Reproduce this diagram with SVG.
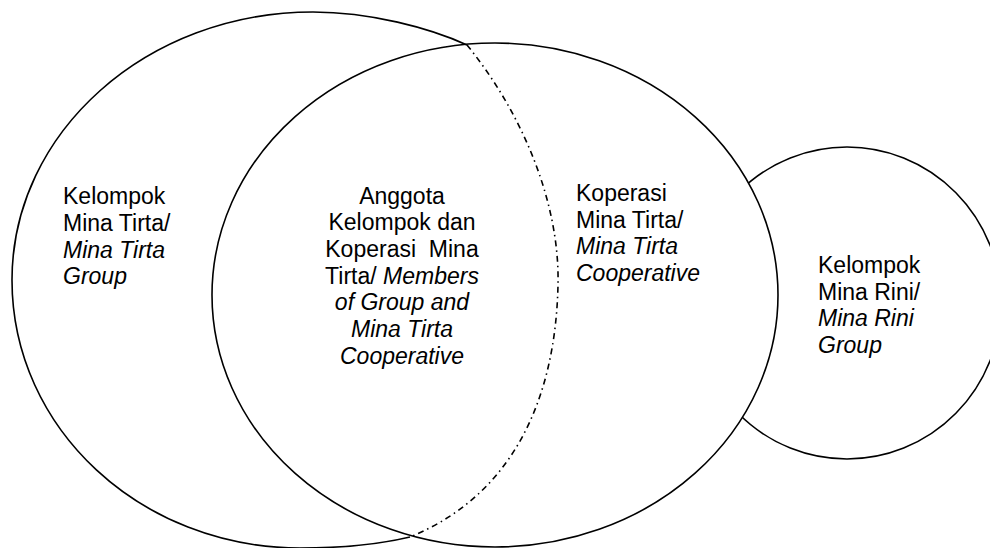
<svg xmlns="http://www.w3.org/2000/svg" width="990" height="548" viewBox="0 0 990 548">
<style>
.s{fill:none;stroke:#000;stroke-width:1.6}
.w{fill:#fff;stroke:#000;stroke-width:1.6}
.dd{fill:none;stroke:#000;stroke-width:1.6;stroke-dasharray:6 4 1.5 4}
text{font-family:"Liberation Sans",Arial,sans-serif;font-size:23px;fill:#000}
.i{font-style:italic}
.c{text-anchor:middle}
</style>
<rect width="990" height="548" fill="#fff"/>
<g id="mina-rini">
<ellipse class="w" cx="847" cy="303" rx="154" ry="156"/>
</g>
<g id="koperasi">
<ellipse class="w" cx="495" cy="295" rx="283" ry="252"/>
</g>
<g id="kelompok">
<path class="s" d="M467,45 C430,28 370,12 313,12 C147,12 12,132 12,280 C12,429 141,548 300,548 C350,548 385,543 410,537"/>
</g>
<g id="connectors">
<path class="dd" d="M467,45 C520,110 560,200 558,285 C556,380 525,490 410,537"/>
</g>
<g id="label-kelompok">
<text x="63" y="204">Kelompok</text>
<text x="63" y="231">Mina Tirta/</text>
<text x="63" y="257.5" class="i">Mina Tirta</text>
<text x="63" y="284" class="i">Group</text>
</g>
<g id="label-anggota">
<text x="402" y="203.5" class="c">Anggota</text>
<text x="402" y="230" class="c">Kelompok dan</text>
<text x="402" y="257" class="c" xml:space="preserve">Koperasi  Mina</text>
<text x="402" y="283.5" class="c" xml:space="preserve">Tirta/ <tspan class="i">Members</tspan></text>
<text x="402" y="310" class="c i">of Group and</text>
<text x="402" y="337" class="c i">Mina Tirta</text>
<text x="402" y="363.5" class="c i">Cooperative</text>
</g>
<g id="label-koperasi">
<text x="576" y="201">Koperasi</text>
<text x="576" y="227.5">Mina Tirta/</text>
<text x="576" y="254" class="i">Mina Tirta</text>
<text x="576" y="281" class="i">Cooperative</text>
</g>
<g id="label-mina-rini">
<text x="818" y="273">Kelompok</text>
<text x="818" y="299.5">Mina Rini/</text>
<text x="818" y="326" class="i">Mina Rini</text>
<text x="818" y="353" class="i">Group</text>
</g>
</svg>
